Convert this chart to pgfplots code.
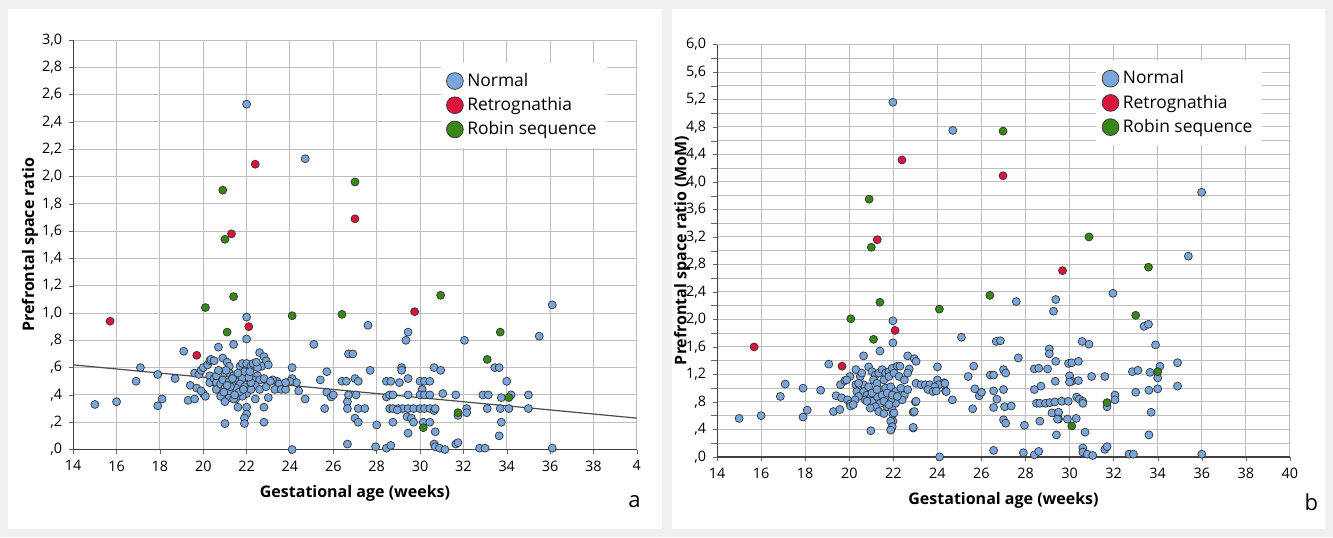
\documentclass[border=0pt]{standalone}
\usepackage{pgfplots}
\pgfplotsset{compat=1.18}
\usepackage{fontspec}
\setmainfont{Open Sans}
\definecolor{nblue}{RGB}{122,167,219}
\definecolor{rred}{RGB}{220,20,60}
\definecolor{rgreen}{RGB}{55,135,25}
\begin{document}
\begin{tikzpicture}
\fill[black!6] (0,0) rectangle (666.5pt,268.5pt);
\fill[white] (4pt,4pt) rectangle (331pt,264pt);
\fill[white] (336pt,4pt) rectangle (662.5pt,264pt);
\pgfplotsset{
  common/.style={
    scale only axis, clip=false,
    axis lines*=left, axis line style={-, black!75, line width=0.6pt},
    xmin=14, xmax=40, ymin=0,
    xtick={14,16,...,40},
    grid=major, major grid style={black!25, line width=0.5pt},
    tick align=outside, major tick length=2pt, tick style={black!60},
    tick label style={font=\fontsize{7.2}{8}\selectfont},
    legend cell align=left,
    legend image post style={mark size=4.2pt},
    nmark/.style={only marks, mark=*, mark size=2pt, mark options={fill=nblue, draw=black!80, line width=0.35pt}},
    rmark/.style={only marks, mark=*, mark size=2pt, mark options={fill=rred, draw=black!80, line width=0.35pt}},
    gmark/.style={only marks, mark=*, mark size=2pt, mark options={fill=rgreen, draw=black!80, line width=0.35pt}},
  }
}
% ---------------- panel a ----------------
\begin{axis}[common,
  at={(36.6pt,43.75pt)}, anchor=south west,
  width=281.8pt, height=204.75pt,
  ymax=3,
  ytick={0,0.2,...,3.01},
  yticklabels={{,0},{,2},{,4},{,6},{,8},{1,0},{1,2},{1,4},{1,6},{1,8},{2,0},{2,2},{2,4},{2,6},{2,8},{3,0}},
  xticklabels={14,16,18,20,22,24,26,28,30,32,34,36,38,4},
  xlabel={Gestational age (weeks)},
  ylabel={Prefrontal space ratio},
  every axis x label/.style={at={(axis description cs:0.5,0)}, anchor=center, yshift=-21.75pt, font=\fontsize{8}{10}\selectfont\bfseries},
  every axis y label/.style={at={(axis description cs:0,0.5)}, anchor=center, xshift=-21.6pt, rotate=90, font=\fontsize{8}{10}\selectfont\bfseries},
  legend style={at={(0.651,0.945)}, anchor=north west, draw=none, fill=white,
    font=\fontsize{8.7}{10}\selectfont, row sep=0pt, inner xsep=3pt, inner ysep=3pt},
]
\addplot[nmark] coordinates {
(22.0,2.53)(24.7,2.13)(36.1,1.06)(22.0,0.97)(27.6,0.91)(29.45,0.86)(35.5,0.83)(22.0,0.81)(29.35,0.80)(32.05,0.80)(25.1,0.77)(21.4,0.77)(20.7,0.75)(19.1,0.72)(26.7,0.70)(26.9,0.70)(22.6,0.71)(22.8,0.68)(17.1,0.60)(24.1,0.60)(30.65,0.60)(30.95,0.58)(33.45,0.60)(33.65,0.60)(27.7,0.58)(29.15,0.60)(29.15,0.58)(25.7,0.57)(17.9,0.55)(16.9,0.50)(18.7,0.52)(25.4,0.51)(26.4,0.50)(26.6,0.50)(27.0,0.52)(27.15,0.50)(28.45,0.50)(28.65,0.50)(29.05,0.49)(29.45,0.52)(30.0,0.50)(30.2,0.50)(30.45,0.50)(34.0,0.50)(15.0,0.33)(16.0,0.35)(17.9,0.32)(18.1,0.37)(19.3,0.36)(19.6,0.37)(25.7,0.42)(25.9,0.385)(26.0,0.40)(25.6,0.30)(26.65,0.35)(26.65,0.30)(26.7,0.40)(27.05,0.40)(27.15,0.30)(27.45,0.30)(27.0,0.23)(27.15,0.20)(26.65,0.04)(28.0,0.18)(27.95,0.02)(28.45,0.01)(28.65,0.03)(28.45,0.385)(28.6,0.40)(28.75,0.40)(28.6,0.30)(28.75,0.30)(29.0,0.30)(29.2,0.30)(29.45,0.30)(29.7,0.30)(30.0,0.30)(30.2,0.30)(28.95,0.29)(28.75,0.20)(29.4,0.24)(29.6,0.23)(29.7,0.20)(29.45,0.12)(29.45,0.40)(30.1,0.44)(30.0,0.40)(30.2,0.40)(30.45,0.40)(30.45,0.30)(30.65,0.285)(30.7,0.30)(30.15,0.20)(30.45,0.20)(30.7,0.13)(30.65,0.04)(30.7,0.02)(30.9,0.01)(31.15,0.0)(31.05,0.41)(31.65,0.40)(31.75,0.25)(32.15,0.30)(32.15,0.27)(31.65,0.04)(31.75,0.05)(32.75,0.01)(33.0,0.01)(32.9,0.40)(33.15,0.40)(33.1,0.30)(33.75,0.38)(33.7,0.30)(34.1,0.30)(34.2,0.40)(33.75,0.20)(33.65,0.10)(35.0,0.40)(35.0,0.30)(36.1,0.01)(24.1,0.0)(24.4,0.43)(24.7,0.37)(24.1,0.52)(24.3,0.49)
(19.4,0.47)(19.7,0.45)(20.0,0.41)(20.1,0.39)(19.9,0.43)(19.6,0.56)(19.8,0.55)(19.9,0.58)(20.0,0.60)(20.2,0.62)(20.3,0.65)(20.35,0.66)(20.9,0.67)(21.1,0.64)(21.2,0.61)(20.3,0.54)(20.3,0.49)(20.5,0.52)(20.6,0.49)(20.6,0.44)(20.8,0.48)(20.9,0.51)(21.0,0.45)(21.1,0.41)(21.2,0.38)(20.8,0.39)(21.0,0.56)(21.2,0.56)(21.4,0.54)(21.5,0.50)(21.7,0.61)(21.8,0.63)(22.0,0.63)(22.2,0.61)(22.3,0.63)(21.9,0.57)(21.8,0.52)(21.7,0.48)(21.9,0.46)(22.0,0.41)(21.8,0.39)(21.5,0.37)(21.4,0.37)(21.2,0.43)(21.5,0.45)(21.3,0.48)(21.2,0.50)(20.6,0.54)(21.0,0.35)(21.6,0.31)(22.0,0.31)(22.0,0.26)(21.9,0.23)(21.9,0.19)(21.0,0.19)(22.9,0.65)(22.7,0.61)(22.5,0.54)(22.3,0.51)(22.6,0.51)(22.8,0.52)(22.4,0.47)(22.6,0.44)(22.9,0.46)(23.0,0.38)(22.8,0.31)(22.8,0.20)(22.4,0.37)(22.2,0.44)(22.2,0.49)(23.4,0.50)(23.5,0.48)(23.3,0.44)(23.6,0.44)(23.8,0.44)(24.0,0.50)(23.8,0.49)(23.2,0.51)(21.05,0.58)(21.25,0.46)(21.35,0.52)(21.6,0.56)(21.65,0.42)(21.1,0.47)(20.95,0.42)(21.45,0.40)(22.1,0.53)(22.15,0.57)(21.85,0.44)(22.5,0.60)(22.45,0.64)(23.0,0.62)(23.1,0.50)(20.5,0.65)(20.7,0.58)
};
\addlegendentry{Normal}
\addplot[rmark] coordinates {(15.7,0.94)(19.7,0.69)(21.3,1.58)(22.1,0.90)(22.4,2.09)(27.0,1.69)(29.75,1.01)};
\addlegendentry{Retrognathia}
\addplot[gmark] coordinates {(20.1,1.04)(20.9,1.90)(21.0,1.54)(21.1,0.86)(21.4,1.12)(24.1,0.98)(26.4,0.99)(27.0,1.96)(30.15,0.16)(30.95,1.13)(31.75,0.27)(33.1,0.66)(33.7,0.86)(34.1,0.38)};
\addlegendentry{Robin sequence}
\addplot[black!70, line width=0.6pt, forget plot] coordinates {(14,0.62)(40,0.23)};
\end{axis}
\node[font=\fontsize{11}{12}\selectfont] at (317.3pt,17.5pt) {a};
% ---------------- panel b ----------------
\begin{axis}[common,
  at={(358.55pt,40.05pt)}, anchor=south west,
  width=286.4pt, height=206.2pt,
  ymax=6,
  ytick={0,0.4,...,6.01},
  minor ytick={0.2,0.6,...,5.81},
  minor grid style={black!25, line width=0.5pt},
  yminorgrids=true,
  yticklabels={{,0},{,4},{,8},{1,2},{1,6},{2,0},{2,4},{2,8},{3,2},{3,6},{4,0},{4,4},{4,8},{5,2},{5,6},{6,0}},
  xticklabels={14,16,18,20,22,24,26,28,30,32,34,36,38,40},
  xlabel={Gestational age (weeks)},
  ylabel={Prefrontal space ratio (MoM)},
  every axis x label/.style={at={(axis description cs:0.5,0)}, anchor=center, yshift=-21.9pt, font=\fontsize{8}{10}\selectfont\bfseries},
  every axis y label/.style={at={(axis description cs:0,0.5)}, anchor=center, xshift=-17.5pt, rotate=90, font=\fontsize{8}{10}\selectfont\bfseries},
  legend style={at={(0.661,0.962)}, anchor=north west, draw=none, fill=white,
    font=\fontsize{8.7}{10}\selectfont, row sep=0pt, inner xsep=3pt, inner ysep=3pt},
]
\addplot[nmark] coordinates {
(21.98,5.16)(24.7,4.75)(35.99,3.85)(35.39,2.92)(27.58,2.26)(31.97,2.38)(29.37,2.29)(29.27,2.12)(33.38,1.90)(33.58,1.93)(21.98,1.98)(25.09,1.74)(26.67,1.68)(26.86,1.69)(30.57,1.68)(30.88,1.64)(33.9,1.63)(21.98,1.66)(21.39,1.54)(20.65,1.47)(29.08,1.57)(29.08,1.50)(27.67,1.44)(29.37,1.39)(19.07,1.35)(29.95,1.36)(30.1,1.37)(30.4,1.39)(34.9,1.37)(34.1,1.32)(24.0,1.31)(25.65,1.32)(28.4,1.28)(28.6,1.29)(29.0,1.28)(27.0,1.27)(27.1,1.22)(26.4,1.19)(26.55,1.19)(32.85,1.24)(33.1,1.26)(33.65,1.23)(34.0,1.15)(25.4,1.17)(30.0,1.18)(30.1,1.10)(30.4,1.11)(30.0,1.09)(31.0,1.17)(31.6,1.17)(29.35,1.10)(34.0,0.99)(33.6,0.97)(33.0,0.94)(34.9,1.03)(25.7,0.99)(25.9,0.89)(26.0,0.94)(26.55,0.96)(26.7,0.84)(26.55,0.72)(27.0,0.98)(25.6,0.70)(27.0,0.54)(27.1,0.49)(27.05,0.73)(27.35,0.74)(27.95,0.46)(28.65,0.52)(28.4,0.98)(28.7,1.03)(28.5,0.78)(28.65,0.78)(28.9,0.78)(29.1,0.79)(29.33,0.80)(29.64,0.81)(29.94,0.81)(30.32,0.87)(30.44,0.84)(30.6,0.81)(30.6,0.78)(29.2,0.64)(29.5,0.65)(29.5,0.55)(29.45,0.55)(29.9,0.55)(30.3,0.56)(29.4,0.32)(30.7,0.36)(26.55,0.095)(27.9,0.06)(28.4,0.03)(28.6,0.08)(30.6,0.13)(30.6,0.07)(30.8,0.04)(31.05,0.02)(31.6,0.11)(31.7,0.15)(31.7,0.73)(32.06,0.90)(32.06,0.83)(32.7,0.04)(32.9,0.04)(36.0,0.04)(33.7,0.65)(33.6,0.32)(24.1,0.0)(22.9,0.42)(22.9,0.65)(23.0,0.80)(21.9,0.40)(21.98,0.52)(21.98,0.62)(20.98,0.38)(15.0,0.56)(16.0,0.60)(17.09,1.06)(16.87,0.88)(17.9,1.00)(18.7,0.97)(17.9,0.58)(18.09,0.68)(19.28,0.66)(19.57,0.69)(19.4,0.89)(19.65,0.86)(19.6,1.05)(19.8,1.11)(20.3,1.27)(20.03,1.17)(19.88,1.12)(19.92,0.83)(20.03,0.77)(24.68,0.83)(24.37,0.96)(24.0,1.12)(24.3,1.08)(24.06,1.05)(22.65,1.47)(22.95,1.43)(23.03,1.39)
(20.88,1.31)(21.03,1.24)(21.18,1.19)(21.34,1.22)(21.49,1.27)(21.65,1.22)(21.8,1.24)(21.95,1.29)(22.18,1.32)(22.3,1.32)(22.72,1.28)
(20.3,1.05)(20.34,0.95)(20.65,1.05)(20.65,0.95)(20.8,0.90)(20.95,0.86)(20.72,0.83)(21.03,0.81)(21.26,0.88)(21.4,0.98)(21.65,1.00)(21.88,1.02)(22.1,0.95)(22.34,1.0)(22.5,0.90)(22.65,0.98)(22.4,0.83)(22.1,0.78)(21.88,0.83)(21.65,0.88)(21.4,0.78)(21.18,0.73)(20.95,0.71)(21.34,0.66)(21.72,0.73)(21.95,0.69)(23.03,1.07)(23.26,1.05)(23.45,1.05)(23.65,1.05)(23.88,1.02)(24.34,1.07)(23.57,0.98)(23.8,0.95)(23.95,0.96)(24.4,0.95)(23.03,0.81)(22.95,0.66)(22.9,0.43)(21.57,0.63)(22.03,0.64)(21.88,0.52)(21.95,0.44)(21.88,0.39)(20.06,0.74)
(21.1,1.12)(21.26,1.07)(21.57,1.12)(21.8,1.17)(22.03,1.22)(22.26,1.17)(22.5,1.12)(22.65,1.22)(20.88,1.02)(21.03,0.93)(21.26,0.98)(21.49,0.90)(21.72,0.93)(21.95,0.90)(22.18,0.88)(20.8,0.81)(21.57,0.81)(21.8,0.76)(20.5,1.17)(20.57,1.22)(20.42,0.88)(20.26,0.83)(20.18,0.76)(20.42,1.07)
};
\addlegendentry{Normal}
\addplot[rmark] coordinates {(15.68,1.60)(19.67,1.32)(21.27,3.16)(22.08,1.84)(22.39,4.32)(26.98,4.09)(29.68,2.71)};
\addlegendentry{Retrognathia}
\addplot[gmark] coordinates {(20.07,2.01)(20.9,3.75)(21.0,3.05)(21.1,1.71)(21.39,2.25)(24.09,2.15)(26.38,2.35)(26.98,4.74)(30.1,0.45)(30.88,3.20)(31.7,0.79)(33.0,2.06)(33.58,2.76)(34.0,1.24)};
\addlegendentry{Robin sequence}
\end{axis}
\node[font=\fontsize{11}{12}\selectfont] at (655.7pt,17.5pt) {b};
\end{tikzpicture}
\end{document}
